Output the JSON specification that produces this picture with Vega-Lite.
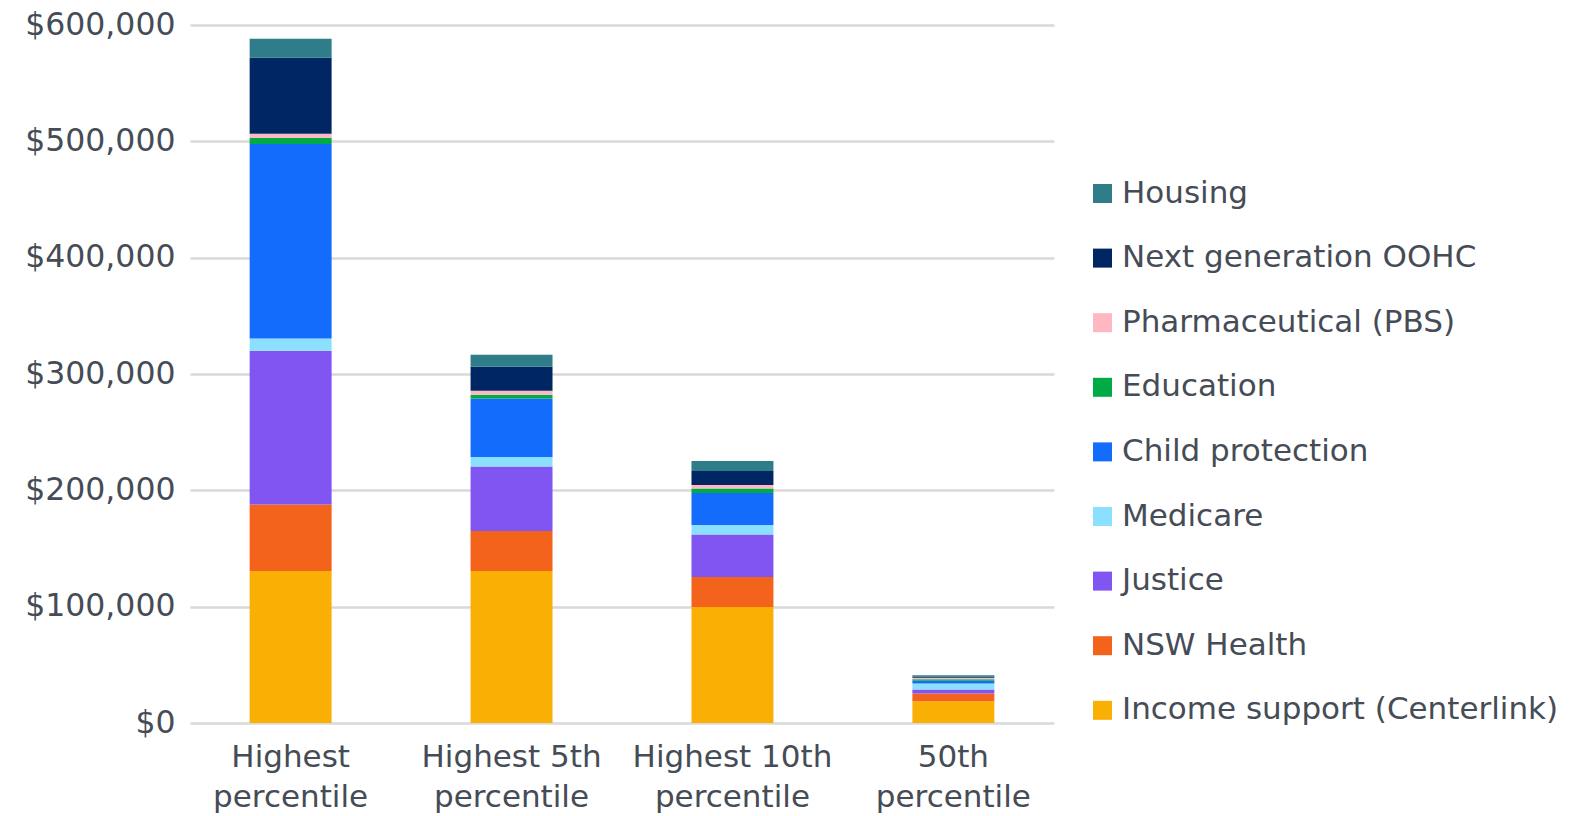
{
  "$schema": "https://vega.github.io/schema/vega-lite/v6.json",
  "autosize": {"type": "none"},
  "padding": {"left": 190, "top": 25, "right": 537, "bottom": 93},
  "width": 864,
  "height": 698,
  "background": "white",
  "data": {
    "values": [
      {"group": "Highest percentile", "category": "Income support (Centerlink)", "cost": 130600},
      {"group": "Highest percentile", "category": "NSW Health", "cost": 57200},
      {"group": "Highest percentile", "category": "Justice", "cost": 132200},
      {"group": "Highest percentile", "category": "Medicare", "cost": 10600},
      {"group": "Highest percentile", "category": "Child protection", "cost": 167200},
      {"group": "Highest percentile", "category": "Education", "cost": 5200},
      {"group": "Highest percentile", "category": "Pharmaceutical (PBS)", "cost": 3500},
      {"group": "Highest percentile", "category": "Next generation OOHC", "cost": 65400},
      {"group": "Highest percentile", "category": "Housing", "cost": 16300},
      {"group": "Highest 5th percentile", "category": "Income support (Centerlink)", "cost": 130600},
      {"group": "Highest 5th percentile", "category": "NSW Health", "cost": 34500},
      {"group": "Highest 5th percentile", "category": "Justice", "cost": 55400},
      {"group": "Highest 5th percentile", "category": "Medicare", "cost": 8200},
      {"group": "Highest 5th percentile", "category": "Child protection", "cost": 50300},
      {"group": "Highest 5th percentile", "category": "Education", "cost": 3100},
      {"group": "Highest 5th percentile", "category": "Pharmaceutical (PBS)", "cost": 3400},
      {"group": "Highest 5th percentile", "category": "Next generation OOHC", "cost": 20700},
      {"group": "Highest 5th percentile", "category": "Housing", "cost": 10300},
      {"group": "Highest 10th percentile", "category": "Income support (Centerlink)", "cost": 99700},
      {"group": "Highest 10th percentile", "category": "NSW Health", "cost": 25800},
      {"group": "Highest 10th percentile", "category": "Justice", "cost": 36500},
      {"group": "Highest 10th percentile", "category": "Medicare", "cost": 8200},
      {"group": "Highest 10th percentile", "category": "Child protection", "cost": 27600},
      {"group": "Highest 10th percentile", "category": "Education", "cost": 3700},
      {"group": "Highest 10th percentile", "category": "Pharmaceutical (PBS)", "cost": 3100},
      {"group": "Highest 10th percentile", "category": "Next generation OOHC", "cost": 12100},
      {"group": "Highest 10th percentile", "category": "Housing", "cost": 8600},
      {"group": "50th percentile", "category": "Income support (Centerlink)", "cost": 18800},
      {"group": "50th percentile", "category": "NSW Health", "cost": 6600},
      {"group": "50th percentile", "category": "Justice", "cost": 3400},
      {"group": "50th percentile", "category": "Medicare", "cost": 5200},
      {"group": "50th percentile", "category": "Child protection", "cost": 2300},
      {"group": "50th percentile", "category": "Education", "cost": 1400},
      {"group": "50th percentile", "category": "Pharmaceutical (PBS)", "cost": 1100},
      {"group": "50th percentile", "category": "Next generation OOHC", "cost": 1200},
      {"group": "50th percentile", "category": "Housing", "cost": 1100}
    ]
  },
  "transform": [
    {"window": [{"op": "row_number", "as": "idx"}]}
  ],
  "mark": {"type": "bar"},
  "encoding": {
    "x": {
      "field": "group",
      "type": "nominal",
      "sort": ["Highest percentile", "Highest 5th percentile", "Highest 10th percentile", "50th percentile"],
      "scale": {"paddingInner": 0.629, "paddingOuter": 0.27},
      "axis": {
        "title": null,
        "labelAngle": 0,
        "domain": false,
        "ticks": false,
        "labelFont": "DejaVu Sans",
        "labelFontSize": 31,
        "labelColor": "#454c56",
        "labelPadding": 19,
        "labelBaseline": "top",
        "labelLineHeight": 40,
        "labelLimit": 400,
        "labelOverlap": false,
        "labelExpr": "[slice(datum.label, 0, lastindexof(datum.label, ' ')), slice(datum.label, lastindexof(datum.label, ' ') + 1)]"
      }
    },
    "y": {
      "field": "cost",
      "type": "quantitative",
      "stack": "zero",
      "scale": {"domain": [0, 600000], "nice": false},
      "axis": {
        "title": null,
        "values": [0, 100000, 200000, 300000, 400000, 500000, 600000],
        "format": "$,.0f",
        "domain": false,
        "ticks": false,
        "labelFont": "DejaVu Sans",
        "labelFontSize": 31.5,
        "labelColor": "#454c56",
        "labelPadding": 15,
        "labelLimit": 400,
        "gridColor": "#d9d9d9",
        "gridWidth": 2.5
      }
    },
    "color": {
      "field": "category",
      "type": "nominal",
      "scale": {
        "domain": ["Housing", "Next generation OOHC", "Pharmaceutical (PBS)", "Education", "Child protection", "Medicare", "Justice", "NSW Health", "Income support (Centerlink)"],
        "range": ["#2e7d88", "#002664", "#ffb8c1", "#00aa45", "#146cfd", "#8ce0ff", "#8055f1", "#f3631b", "#faaf05"]
      },
      "legend": {
        "title": null,
        "orient": "none",
        "legendX": 897,
        "legendY": 153,
        "symbolType": "square",
        "symbolSize": 361,
        "symbolStrokeWidth": 0,
        "labelFont": "DejaVu Sans",
        "labelFontSize": 31,
        "labelColor": "#454c56",
        "labelOffset": 4,
        "rowPadding": 32.6,
        "labelLimit": 600
      }
    },
    "order": {"field": "idx", "type": "quantitative", "sort": "ascending"}
  },
  "config": {
    "view": {"stroke": null}
  }
}
